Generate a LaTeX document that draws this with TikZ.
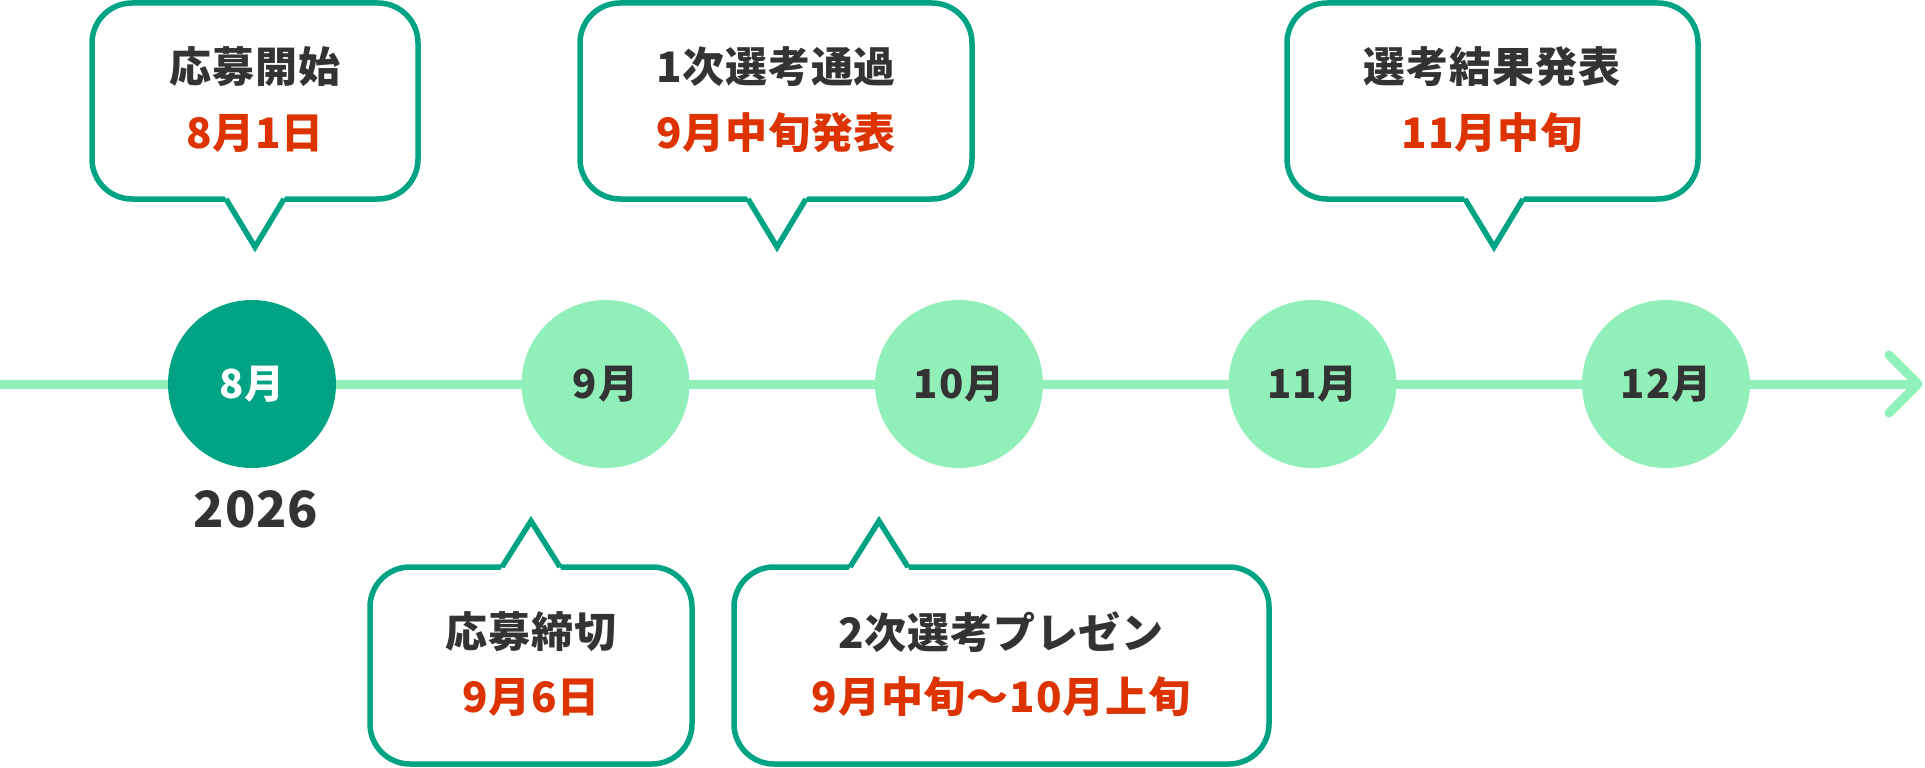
\documentclass[tikz,border=0pt]{standalone}
\usepackage{fontspec}
\newfontfamily\jpfont{Noto Sans CJK JP}[LetterSpace=2]
\definecolor{deepgreen}{HTML}{00A383}
\definecolor{palegreen}{HTML}{91EFBA}
\definecolor{datered}{HTML}{DD3300}
\definecolor{inkgray}{HTML}{333333}
\tikzset{
  bubble/.style={draw=deepgreen, fill=white, line width=5.5pt, rounded corners=40pt},
  tail/.style={draw=deepgreen, line width=5.5pt, line join=miter},
  axis/.style={draw=palegreen, line width=9pt},
  month/.style={circle, fill=palegreen, minimum size=168pt, inner sep=0pt,
    text=inkgray, font=\jpfont\bfseries\fontsize{40}{48}\selectfont},
  monthnow/.style={month, fill=deepgreen, text=white},
  title/.style={inner sep=0pt, text=inkgray, font=\jpfont\bfseries\fontsize{42}{50}\selectfont},
  date/.style={title, text=datered},
}
\begin{document}
\begin{tikzpicture}[x=1pt, y=-1pt]
    \useasboundingbox (0,0) rectangle (1925,768);
    % timeline
    \coordinate (start) at (0,384);
    \coordinate (end) at (1918,384);
    \draw[axis] (start) -- (end);
    \draw[axis, line cap=round, line join=round] (end) ++(-29,-29) -- (end) -- ++(-29,29);
    \node[monthnow] (aug) at (252,384) {8月};
    \node[month] (sep) at (605.5,384) {9月};
    \node[month] (oct) at (959,384) {10月};
    \node[month] (nov) at (1312.5,384) {11月};
    \node[month] (dec) at (1666,384) {12月};
    \node[title, font=\jpfont\bfseries\fontsize{50}{60}\selectfont] (year) at (256,509) {2026};
    % top callouts
    \draw[bubble] (92,3) rectangle (418,199);
    \fill[white] (224,195) -- (255,247) -- (286,195) -- cycle;
    \draw[tail] (226,199) -- (255,247) -- (284,199);
    \node[title] (open) at (255,67) {応募開始};
    \node[date] (opendate) at (255,133) {8月1日};
    \draw[bubble] (580,3) rectangle (972,199);
    \fill[white] (746,195) -- (777,247) -- (808,195) -- cycle;
    \draw[tail] (748,199) -- (777,247) -- (806,199);
    \node[title] (first) at (776,67) {1次選考通過};
    \node[date] (firstdate) at (776,133) {9月中旬発表};
    \draw[bubble] (1287,3) rectangle (1698,199);
    \fill[white] (1463,195) -- (1494,247) -- (1525,195) -- cycle;
    \draw[tail] (1465,199) -- (1494,247) -- (1523,199);
    \node[title] (result) at (1492,67) {選考結果発表};
    \node[date] (resultdate) at (1492,133) {11月中旬};
    % bottom callouts
    \draw[bubble] (370,567) rectangle (692,764);
    \fill[white] (500,571) -- (531,521) -- (562,571) -- cycle;
    \draw[tail] (502,567) -- (531,521) -- (560,567);
    \node[title] (close) at (531,632) {応募締切};
    \node[date] (closedate) at (531,697) {9月6日};
    \draw[bubble] (734,567) rectangle (1269,764);
    \fill[white] (848,571) -- (879,521) -- (910,571) -- cycle;
    \draw[tail] (850,567) -- (879,521) -- (908,567);
    \node[title] (second) at (1001,632) {2次選考プレゼン};
    \node[date] (seconddate) at (1001,697) {9月中旬～10月上旬};
\end{tikzpicture}
\end{document}
